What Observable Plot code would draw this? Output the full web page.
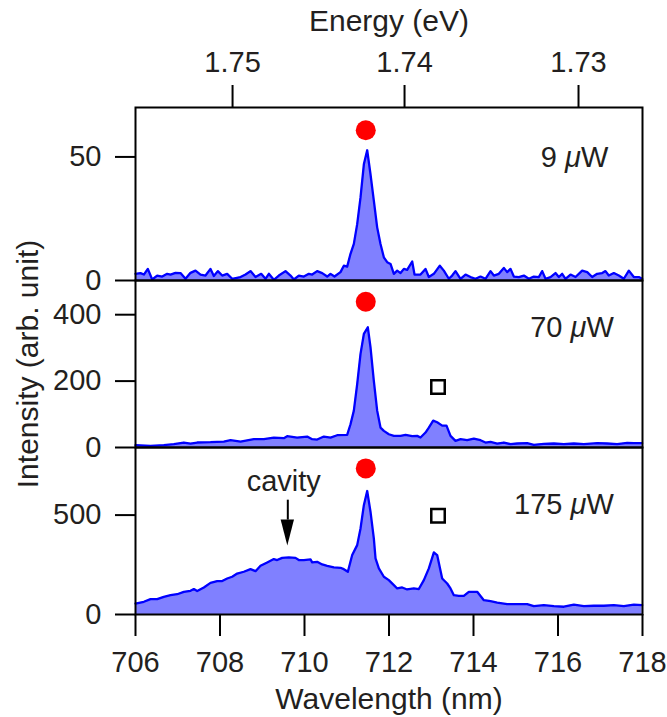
<!DOCTYPE html>
<html><head><meta charset="utf-8">
<script src="https://cdn.jsdelivr.net/npm/d3@7"></script>
<script src="https://cdn.jsdelivr.net/npm/@observablehq/plot@0.6"></script>
<style>
body{margin:0;background:#fff;}
#chart{position:relative;width:667px;height:717px;}
#chart svg{position:absolute;left:0;}
</style></head><body><div id="chart"></div>
<script>
// ---- data ----
const wavelengthTicks = [706, 708, 710, 712, 714, 716, 718];
const energyTicks = [1.75, 1.74, 1.73];
const hc = 1239.52; // eV·nm used for the top axis
const yTicks1 = [0, 50];
const yTicks2 = [0, 200, 400];
const yTicks3 = [0, 500];

// 9 µW
const wl1 = [706.000,706.119,706.198,706.292,706.395,706.513,706.632,706.750,706.829,706.947,707.065,707.184,707.302,707.420,707.539,707.657,707.775,707.854,707.949,708.052,708.170,708.288,708.486,708.604,708.722,708.841,708.975,709.077,709.156,709.274,709.393,709.551,709.669,709.748,709.866,709.985,710.103,710.182,710.300,710.419,710.537,710.616,710.710,710.852,710.931,711.010,711.089,711.168,711.247,711.326,711.405,711.484,711.562,711.641,711.720,711.799,711.878,711.957,712.036,712.115,712.194,712.273,712.352,712.430,712.549,712.604,712.746,712.864,712.943,713.062,713.203,713.298,713.416,713.495,713.574,713.693,713.811,713.929,714.048,714.166,714.284,714.403,714.482,714.600,714.718,714.797,714.876,714.955,715.073,715.192,715.310,715.428,715.547,715.626,715.705,715.823,715.941,716.020,716.099,716.178,716.296,716.415,716.572,716.691,716.809,716.927,717.046,717.124,717.203,717.322,717.440,717.558,717.677,717.795,717.913,717.992];
const int1 = [2.7,3.0,2.4,4.7,0.4,2.0,1.6,2.7,2.4,3.1,3.0,0.7,3.1,4.0,2.4,2.0,4.7,1.8,3.8,2.0,2.7,0.7,1.4,2.4,3.8,1.4,2.7,0.7,2.7,0.3,2.0,3.8,2.0,0.4,2.0,1.6,2.7,2.4,3.8,3.0,1.6,2.7,1.6,3.4,6.0,5.6,10.8,14.8,22.8,33.6,47.0,52.7,43.0,32.3,21.5,14.8,9.4,7.4,6.7,2.7,4.0,3.0,4.7,4.3,7.7,2.4,2.4,4.7,1.4,2.7,6.0,4.0,0.7,2.0,3.8,0.7,2.4,1.4,0.7,1.6,0.7,3.8,2.0,2.7,5.1,3.4,4.7,1.6,1.4,2.0,0.7,1.6,1.4,3.8,0.7,1.4,3.0,1.4,2.7,0.7,2.4,1.4,4.0,3.4,1.4,2.7,3.0,3.8,2.0,3.0,2.0,0.7,4.0,1.4,1.4,0.7];

// 70 µW
const wl2 = [706.000,706.355,706.671,706.908,707.144,707.302,707.460,707.775,708.091,708.249,708.486,708.801,709.038,709.274,709.511,709.590,709.827,710.063,710.182,710.300,710.458,710.616,710.773,711.010,711.089,711.168,711.247,711.326,711.405,711.499,711.562,711.641,711.720,711.799,711.878,711.996,712.115,712.273,712.391,712.549,712.667,712.746,712.864,712.943,713.046,713.140,713.259,713.361,713.456,713.574,713.693,713.850,714.008,714.166,714.284,714.403,714.561,714.718,714.876,715.034,715.271,715.428,715.665,715.902,716.139,716.375,716.612,716.927,717.164,717.400,717.637,717.795,717.992];
const int2 = [7,5,7,10,15,12,15,16,18,22,18,25,25,30,28,34,30,33,25,24,33,30,37,38,70,111,191,282,342,362,302,201,111,60,50,40,35,35,38,34,35,30,45,60,81,76,66,66,35,20,25,22,27,22,15,17,12,15,10,12,13,8,11,12,10,12,10,13,12,10,14,13,13];

// 175 µW
const wl3 = [706.000,706.198,706.355,706.513,706.671,706.829,706.987,707.144,707.302,707.381,707.460,707.618,707.775,707.933,708.052,708.170,708.288,708.407,708.564,708.722,708.841,708.959,709.117,709.274,709.353,709.472,709.629,709.787,709.866,709.985,710.142,710.182,710.300,710.419,710.537,710.695,710.852,710.931,711.026,711.129,711.247,711.326,711.405,711.484,711.562,711.641,711.681,711.760,711.878,711.996,712.115,712.194,712.312,712.430,712.588,712.706,712.825,712.943,713.062,713.140,713.259,713.377,713.456,713.535,713.653,713.771,713.890,714.087,714.245,714.403,714.561,714.797,715.034,715.271,715.428,715.665,715.902,716.139,716.375,716.612,716.848,717.085,717.322,717.558,717.795,717.992];
const int3 = [55,64,77,77,89,97,102,114,119,128,118,136,159,168,168,181,190,206,215,228,218,245,262,279,274,285,287,285,274,274,277,262,265,252,245,237,235,228,215,299,349,433,550,621,517,383,282,232,190,173,148,131,136,126,131,128,173,232,312,299,181,156,131,97,94,94,114,114,72,67,60,52,52,52,42,47,42,39,50,42,44,44,47,42,50,47];

// annotations
const powerLabels = ["9 μW", "70 μW", "175 μW"];
const powerLabelPos = [{w: 717.19, v: 49.6}, {w: 717.32, v: 362}, {w: 717.32, v: 554}];
const dotPos = [{w: 711.45, v: 60.8}, {w: 711.45, v: 439}, {w: 711.45, v: 735}];
const squarePos = [{w: 713.16, v: 182}, {w: 713.16, v: 497}];
const cavityLabel = {text: "cavity", w: 709.51, v: 622};
const cavityArrow = {w: 709.605, top: 575, headBase: 475, tip: 345, half: 0.158};

// ---- drawing ----
const FONT = "'Liberation Sans', Arial, Helvetica, sans-serif";
const INK = "#231f20";
const FILL = "#8080ff";
const LINE = "#0000ff";
const common = {
  width: 667, marginLeft: 135, marginRight: 25,
  x: {domain: [706, 718]},
  style: {fontFamily: FONT, fontSize: "29px", background: "transparent", overflow: "visible", color: INK}
};
const toRows = (w, v) => w.map((d, i) => ({w: d, v: v[i]}));
const s1 = toRows(wl1, int1), s2 = toRows(wl2, int2), s3 = toRows(wl3, int3);

function spectrum(rows) {
  return [
    Plot.areaY(rows, {x: "w", y: "v", fill: FILL}),
    Plot.lineY(rows, {x: "w", y: "v", stroke: LINE, strokeWidth: 2.3, strokeLinejoin: "round"})
  ];
}
function yAxis(ticks) {
  return Plot.axisY({ticks, tickSize: 20, tickPadding: 14, label: null, strokeWidth: 2, tickFormat: d3.format("d"), stroke: "black"});
}
function powerText(i) {
  return Plot.text([powerLabelPos[i]], {x: "w", y: "v", text: () => powerLabels[i], textAnchor: "end", lineAnchor: "middle", fontSize: 29, fill: INK});
}
function redDot(i) {
  return Plot.dot([dotPos[i]], {x: "w", y: "v", r: 10, fill: "red", stroke: null});
}
function square(i) {
  return Plot.dot([squarePos[i]], {x: "w", y: "v", symbol: "square", r: 7.6, fill: "none", stroke: "black", strokeWidth: 2.5});
}

const p1 = Plot.plot({
  ...common, height: 280, marginTop: 107, marginBottom: 0,
  y: {domain: [0, 70]},
  marks: [
    ...spectrum(s1),
    Plot.frame({stroke: "black", strokeWidth: 2}),
    yAxis(yTicks1),
    Plot.axisX({anchor: "top", ticks: energyTicks.map(e => hc / e), tickFormat: w => d3.format(".2f")(hc / w),
      tickSize: 23, tickPadding: 13, label: null, strokeWidth: 2, stroke: "black"}),
    Plot.text(["Energy (eV)"], {frameAnchor: "top", dy: -77, lineAnchor: "bottom", fontSize: 30, fill: INK}),
    redDot(0),
    powerText(0)
  ]
});

const p2 = Plot.plot({
  ...common, height: 167, marginTop: 0, marginBottom: 0,
  x: {domain: [706, 718], axis: null},
  y: {domain: [0, 503]},
  marks: [
    ...spectrum(s2),
    Plot.frame({stroke: "black", strokeWidth: 2}),
    yAxis(yTicks2),
    redDot(1),
    square(0),
    powerText(1),
    Plot.text(["Intensity (arb. unit)"], {frameAnchor: "left", dx: -107, rotate: -90, textAnchor: "middle", lineAnchor: "middle", fontSize: 30, fill: INK})
  ]
});

const headRows = [
  {w: cavityArrow.w - cavityArrow.half, y1: cavityArrow.headBase, y2: cavityArrow.headBase},
  {w: cavityArrow.w, y1: cavityArrow.headBase, y2: cavityArrow.tip},
  {w: cavityArrow.w + cavityArrow.half, y1: cavityArrow.headBase, y2: cavityArrow.headBase}
];

const p3 = Plot.plot({
  ...common, height: 270, marginTop: 0, marginBottom: 103,
  y: {domain: [0, 840]},
  marks: [
    ...spectrum(s3),
    Plot.frame({stroke: "black", strokeWidth: 2}),
    yAxis(yTicks3),
    Plot.axisX({anchor: "bottom", ticks: wavelengthTicks, tickFormat: d3.format("d"), tickSize: 22, tickPadding: 15,
      label: null, strokeWidth: 2, stroke: "black"}),
    Plot.text(["Wavelength (nm)"], {frameAnchor: "bottom", dy: 94, lineAnchor: "bottom", fontSize: 30, fill: INK}),
    redDot(2),
    square(1),
    powerText(2),
    Plot.text([cavityLabel], {x: "w", y: "v", text: "text", lineAnchor: "bottom", fontSize: 29, fill: INK}),
    Plot.ruleX([cavityArrow], {x: "w", y1: "top", y2: "headBase", stroke: "black", strokeWidth: 2}),
    Plot.areaY(headRows, {x: "w", y1: "y1", y2: "y2", fill: "black"})
  ]
});

const chart = document.getElementById("chart");
[[p1, 0], [p2, 280], [p3, 447]].forEach(([svg, top]) => {
  svg.style.top = top + "px";
  chart.appendChild(svg);
  // italic µ in the power labels
  svg.querySelectorAll("text").forEach(t => {
    const s = t.textContent;
    if (s.includes("μ") && t.children.length === 0) {
      const [a, b] = s.split("μ");
      t.textContent = "";
      const ns = "http://www.w3.org/2000/svg";
      const t1 = document.createElementNS(ns, "tspan"); t1.textContent = a;
      const t2 = document.createElementNS(ns, "tspan"); t2.textContent = "μ"; t2.setAttribute("font-style", "italic");
      const t3 = document.createElementNS(ns, "tspan"); t3.textContent = b;
      t.append(t1, t2, t3);
    }
  });
});
</script></body></html>
